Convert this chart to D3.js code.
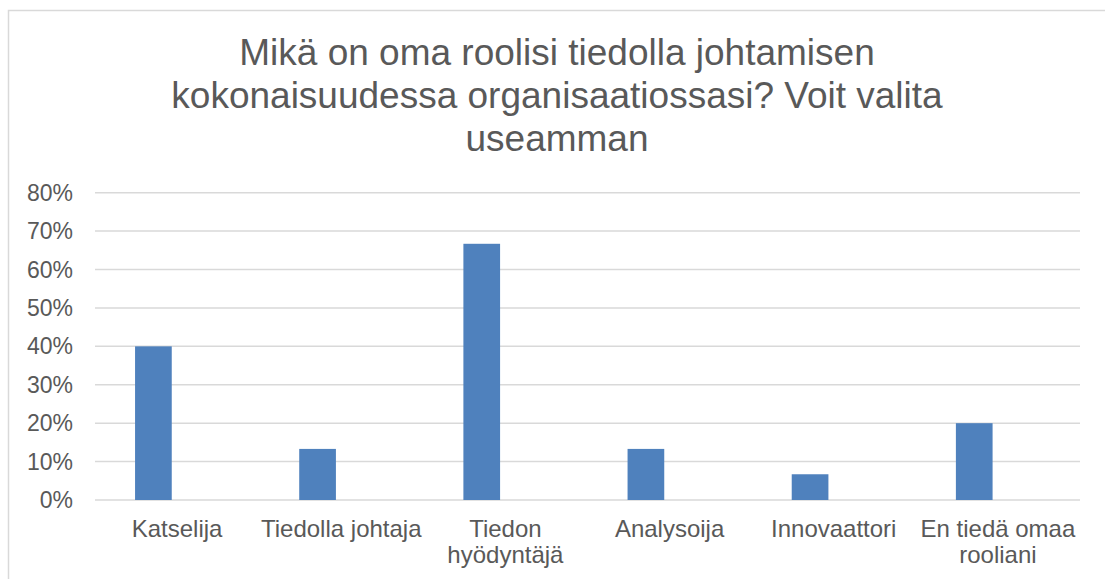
<!DOCTYPE html>
<html>
<head>
<meta charset="utf-8">
<script src="https://cdn.jsdelivr.net/npm/d3@7"></script>
<style>
  body { margin: 0; background: #fff; }
  svg { display: block; font-family: "Liberation Sans", Arial, sans-serif; }
</style>
</head>
<body>
<script>
const categories = ["Katselija", "Tiedolla johtaja", "Tiedon hyödyntäjä", "Analysoija", "Innovaattori", "En tiedä omaa rooliani"];
const values = [0.40, 0.133, 0.667, 0.133, 0.067, 0.20];
const yTicks = [0, 0.1, 0.2, 0.3, 0.4, 0.5, 0.6, 0.7, 0.8];
const titleLines = ["Mikä on oma roolisi tiedolla johtamisen", "kokonaisuudessa organisaatiossasi? Voit valita", "useamman"];

const width = 1105, height = 579;
const textColor = "#595959";

const svg = d3.select("body").append("svg")
  .attr("width", width)
  .attr("height", height);

// chart frame
svg.append("rect")
  .attr("x", 8.5).attr("y", 10.5)
  .attr("width", 1110).attr("height", 600)
  .attr("fill", "none")
  .attr("stroke", "#d9d9d9")
  .attr("stroke-width", 1.5);

// title
svg.append("text")
  .attr("text-anchor", "middle")
  .attr("fill", textColor)
  .attr("font-size", "37px")
  .selectAll("tspan").data(titleLines)
  .enter().append("tspan")
  .attr("x", 557)
  .attr("y", function(d, i) { return 65 + i * 43; })
  .text(function(d) { return d; });

const x = d3.scaleBand()
  .domain(categories)
  .range([95, 1080]);

const y = d3.scaleLinear()
  .domain([0, 0.8])
  .range([500, 192.7]);

// gridlines
svg.append("g").selectAll("line").data(yTicks)
  .enter().append("line")
  .attr("x1", 95).attr("x2", 1080)
  .attr("y1", function(d) { return y(d); })
  .attr("y2", function(d) { return y(d); })
  .attr("stroke", "#d9d9d9")
  .attr("stroke-width", 1.5);

// y labels
svg.append("g").selectAll("text").data(yTicks)
  .enter().append("text")
  .attr("x", 73)
  .attr("y", function(d) { return y(d); })
  .attr("dy", "0.35em")
  .attr("text-anchor", "end")
  .attr("fill", textColor)
  .attr("font-size", "23px")
  .text(d3.format(".0%"));

// bars (sit left of the category centre, like an Excel cluster with an empty 2nd series)
svg.append("g").selectAll("rect").data(values)
  .enter().append("rect")
  .attr("x", function(d, i) { return x(categories[i]) + x.bandwidth() * 0.244; })
  .attr("width", x.bandwidth() * 0.2235)
  .attr("y", function(d) { return y(d); })
  .attr("height", function(d) { return y(0) - y(d); })
  .attr("fill", "#4f81bd");

// category labels, wrapped to the band width
const labels = svg.append("g").selectAll("text").data(categories)
  .enter().append("text")
  .attr("text-anchor", "middle")
  .attr("fill", textColor)
  .attr("font-size", "24px");

labels.each(function(d) {
  const t = d3.select(this);
  const cx = x(d) + x.bandwidth() / 2;
  const words = d.split(" ");
  let lines = [], line = [];
  const probe = t.append("tspan");
  words.forEach(function(w) {
    const test = line.concat([w]).join(" ");
    probe.text(test);
    if (probe.node().getComputedTextLength() > x.bandwidth() && line.length) {
      lines.push(line.join(" "));
      line = [w];
    } else {
      line.push(w);
    }
  });
  lines.push(line.join(" "));
  probe.remove();
  lines.forEach(function(l, i) {
    t.append("tspan")
      .attr("x", cx)
      .attr("y", 537 + i * 26)
      .text(l);
  });
});
</script>
</body>
</html>
